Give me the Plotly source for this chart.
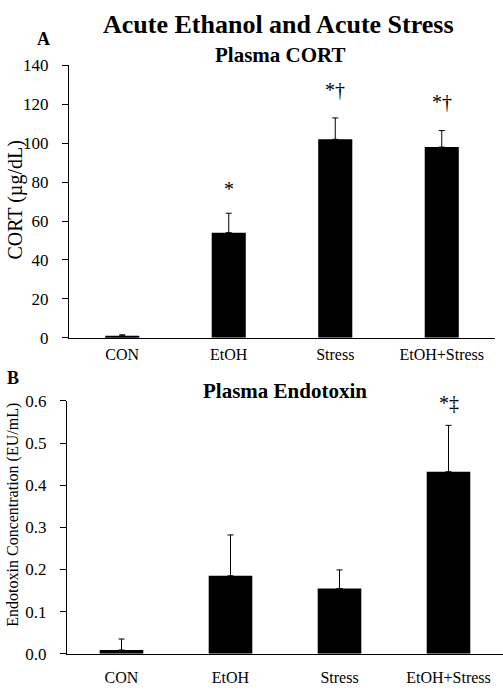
import plotly.graph_objects as go

groups = ["CON", "EtOH", "Stress", "EtOH+Stress"]
cort_mean = [1, 54, 102, 98]
cort_err = [0.5, 10, 11, 8.5]
cort_marks = ["", "*", "*†", "*†"]
cort_mark_y = [None, 76.5, 127.5, 121]
endo_mean = [0.009, 0.185, 0.155, 0.432]
endo_err = [0.026, 0.097, 0.044, 0.11]
endo_marks = ["", "", "", "*‡"]
endo_mark_y = [None, None, None, 0.596]
cort_ticks = [0, 20, 40, 60, 80, 100, 120, 140]
endo_ticks = [0.0, 0.1, 0.2, 0.3, 0.4, 0.5, 0.6]

W, H = 503, 691
FONT = "Liberation Serif, Times New Roman, serif"


def fx(sx):
    return sx / W


def fy(sy):
    return 1 - sy / H


fig = go.Figure()
fig.add_trace(go.Bar(
    x=groups, y=cort_mean, width=0.32, marker=dict(color="black", line=dict(width=0)),
    error_y=dict(type="data", array=cort_err, arrayminus=[0]*4, color="black", thickness=1, width=3),
    xaxis="x", yaxis="y", showlegend=False, hoverinfo="skip"))
fig.add_trace(go.Bar(
    x=groups, y=endo_mean, width=0.4, marker=dict(color="black", line=dict(width=0)),
    error_y=dict(type="data", array=endo_err, arrayminus=[0]*4, color="black", thickness=1, width=3),
    xaxis="x2", yaxis="y2", showlegend=False, hoverinfo="skip"))

ann = []
for g, t, yv in zip(groups, cort_marks, cort_mark_y):
    if t:
        ann.append(dict(x=g, y=yv, xref="x", yref="y", text=t, showarrow=False,
                        font=dict(size=20, family=FONT, color="black")))
for g, t, yv in zip(groups, endo_marks, endo_mark_y):
    if t:
        ann.append(dict(x=g, y=yv, xref="x2", yref="y2", text=t, showarrow=False,
                        font=dict(size=20, family=FONT, color="black")))

def txt(sx, sy, text, size, angle=0):
    return dict(x=fx(sx), y=fy(sy), xref="paper", yref="paper", text=text, textangle=angle,
                xanchor="center", yanchor="middle", showarrow=False,
                font=dict(size=size, family=FONT, color="black"))

ann += [
    txt(278, 16, "<b>Acute Ethanol and Acute Stress</b>", 26),
    txt(43, 31, "<b>A</b>", 18),
    txt(280, 47, "<b>Plasma CORT</b>", 21),
    txt(13, 379, "<b>B</b>", 18),
    txt(285, 393, "<b>Plasma Endotoxin</b>", 21),
    txt(16, 197, "CORT (µg/dL)", 20, -90),
    txt(13, 520, "Endotoxin Concentration (EU/mL)", 16, -90),
]

axis_common = dict(showgrid=False, zeroline=False, showline=True, linecolor="black", linewidth=1)
ytickfont = dict(size=17, family=FONT, color="black")
xtickfont = dict(size=16, family=FONT, color="black")

fig.update_layout(
    width=W, height=H, margin=dict(l=0, r=0, t=0, b=0),
    plot_bgcolor="white", paper_bgcolor="white",
    font=dict(family=FONT, color="black"),
    xaxis=dict(domain=[fx(69), fx(495)], anchor="y", ticks="outside", ticklen=2,
               tickcolor="rgba(0,0,0,0)", range=[-0.5, 3.5], tickfont=xtickfont, **axis_common),
    yaxis=dict(domain=[fy(338), fy(58)], anchor="x", range=[0, 140], tickvals=cort_ticks,
               ticks="outside", ticklen=6, tickcolor="black", ticklabelstandoff=10, tickfont=ytickfont,
               **axis_common),
    xaxis2=dict(domain=[fx(67), fx(503)], anchor="y2", ticks="outside", ticklen=9,
                tickcolor="rgba(0,0,0,0)", range=[-0.5, 3.5], tickfont=xtickfont, **axis_common),
    yaxis2=dict(domain=[fy(663), fy(403)], anchor="x2", range=[0, 0.6], tickvals=endo_ticks,
                tickformat=".1f", ticks="outside", ticklen=6, tickcolor="black", ticklabelstandoff=10,
                tickfont=ytickfont, **axis_common),
    annotations=ann,
)

fig.write_html("out.html", config={"displayModeBar": False},
               post_script="document.body.style.margin='0px';")
